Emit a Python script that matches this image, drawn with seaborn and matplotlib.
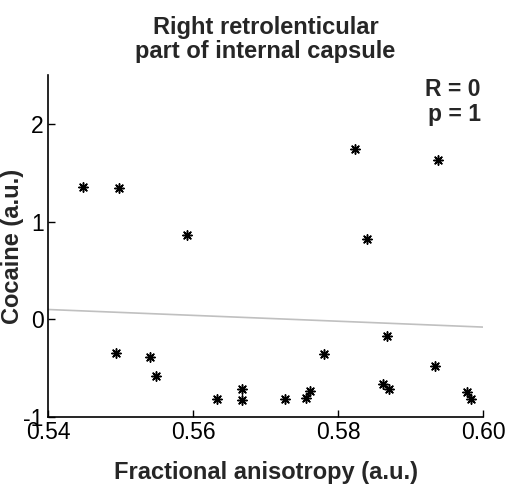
import matplotlib
matplotlib.use("Agg")
import numpy as np
import pandas as pd
import matplotlib.pyplot as plt
import seaborn as sns

# ------------------------------
# Data
# ------------------------------
fa_values = [0.5448, 0.5498, 0.5592, 0.5494, 0.5540, 0.5549, 0.5633, 0.5668, 0.5668,
             0.5727, 0.5756, 0.5762, 0.5781, 0.5824, 0.5840, 0.5867, 0.5862, 0.5870,
             0.5938, 0.5934, 0.5978, 0.5984]
cocaine_values = [1.35, 1.34, 0.86, -0.35, -0.39, -0.58, -0.82, -0.71, -0.83,
                  -0.82, -0.81, -0.73, -0.36, 1.74, 0.82, -0.17, -0.66, -0.71,
                  1.63, -0.48, -0.74, -0.82]
fit_x = [0.54, 0.60]
fit_y = [0.10, -0.08]
x_ticks = [0.54, 0.56, 0.58, 0.60]
y_ticks = [-1, 0, 1, 2]

df = pd.DataFrame({"fa": fa_values, "cocaine": cocaine_values})
fit_df = pd.DataFrame({"fa": fit_x, "cocaine": fit_y})

sns.set_style("ticks")
plt.rcParams["font.family"] = ["Liberation Sans", "DejaVu Sans"]

fig = plt.figure(figsize=(5.09, 4.90), dpi=100)
ax = fig.add_axes([0.0943, 0.149, 0.8547, 0.698])

sns.lineplot(data=fit_df, x="fa", y="cocaine", ax=ax, color="#c0c0c0", linewidth=1.2)
sns.scatterplot(data=df, x="fa", y="cocaine", ax=ax, marker=(8, 2, 0), color="black",
                s=45, linewidth=1.1, edgecolor="black", zorder=3)

ax.set_xlim(0.54, 0.60)
ax.set_ylim(-1, 2.5)
ax.set_xticks(x_ticks)
ax.set_xticklabels([f"{v:.2f}" for v in x_ticks])
ax.set_yticks(y_ticks)
ax.set_yticklabels([str(v) for v in y_ticks])
ax.tick_params(direction="in", length=5, width=1, labelsize=16.5, colors="black", pad=3)
for s in ("left", "bottom"):
    ax.spines[s].set_linewidth(1.2)
    ax.spines[s].set_color("black")
sns.despine(ax=ax)

ax.set_title("Right retrolenticular\npart of internal capsule", fontsize=17,
             fontweight="bold", pad=12, linespacing=1.05)
ax.set_xlabel("Fractional anisotropy (a.u.)", fontsize=17, fontweight="bold", labelpad=12)
ax.set_ylabel("Cocaine (a.u.)", fontsize=17, fontweight="bold")
ax.yaxis.set_label_coords(-0.056, 0.5)
ax.text(0.995, 0.99, "R = 0\np = 1", transform=ax.transAxes, ha="right", va="top",
        fontsize=16.5, fontweight="bold", linespacing=1.1)

fig.savefig("out.png", dpi=100)
